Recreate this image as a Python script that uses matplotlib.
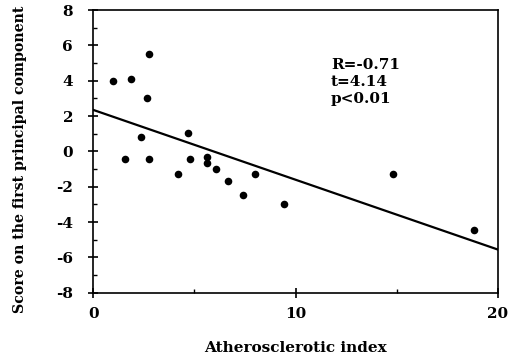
import matplotlib
matplotlib.use("Agg")
import matplotlib.pyplot as plt
from matplotlib.ticker import MultipleLocator

athero_index = [1.0, 1.85, 2.75, 2.65, 2.35, 1.55, 2.75, 4.7, 4.2, 4.8, 5.6, 5.6,
                6.05, 6.65, 8.0, 7.4, 9.45, 14.8, 18.8]
pc1_score = [4.0, 4.1, 5.5, 3.0, 0.8, -0.4, -0.45, 1.05, -1.25, -0.45, -0.3, -0.65,
             -1.0, -1.7, -1.3, -2.45, -3.0, -1.3, -4.45]
fit_intercept = 2.35
fit_slope = -0.395
fit_x = [0, 20]
x_ticks = [0, 10, 20]
y_ticks = [-8, -6, -4, -2, 0, 2, 4, 6, 8]
stats_text = "R=-0.71\nt=4.14\np<0.01"

plt.rcParams['font.family'] = ['DejaVu Serif', 'Liberation Serif']
plt.rcParams['font.weight'] = 'bold'
plt.rcParams['axes.unicode_minus'] = False

fig = plt.figure(figsize=(5.18, 3.58), dpi=100)
ax = fig.add_axes([0.18, 0.182, 0.781, 0.79])

ax.scatter(athero_index, pc1_score, s=30, color='black', zorder=3, linewidths=0)
fit_y = [fit_intercept + fit_slope * x for x in fit_x]
ax.plot(fit_x, fit_y, color='black', lw=1.6)

ax.set_xlim(0, 20)
ax.set_ylim(-8, 8)
ax.set_xticks(x_ticks)
ax.set_yticks(y_ticks)
ax.xaxis.set_minor_locator(MultipleLocator(5))
ax.yaxis.set_minor_locator(MultipleLocator(1))
ax.tick_params(which='major', direction='inout', length=7, width=1.2, labelsize=11)
ax.tick_params(axis='x', which='major', pad=7)
ax.tick_params(axis='y', which='major', pad=11)
ax.tick_params(which='minor', direction='in', length=3, width=1)
for lbl in ax.get_xticklabels() + ax.get_yticklabels():
    lbl.set_fontweight('bold')
for sp in ax.spines.values():
    sp.set_linewidth(1.2)

ax.set_xlabel("Atherosclerotic index", fontsize=11, fontweight='bold')
ax.xaxis.set_label_coords(0.5, -0.17)
ax.set_ylabel("Score on the first principal component", fontsize=10.2, fontweight='bold')
ax.yaxis.set_label_coords(-0.163, 0.473)

ax.text(11.75, 5.3, stats_text, fontsize=11, fontweight='bold', va='top', ha='left',
        linespacing=1.28)

fig.savefig("out.png", dpi=100)
